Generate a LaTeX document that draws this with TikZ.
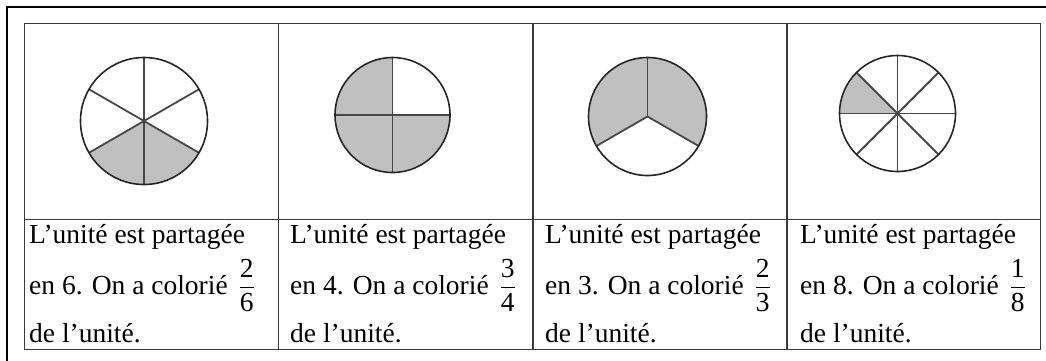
\documentclass[tikz,border=0pt]{standalone}
\usepackage{amsmath}
\usepackage{fontspec}
\setmainfont{Liberation Serif}
\definecolor{sectorgray}{HTML}{C0C0C0}
\definecolor{rulegray}{HTML}{3A3A3A}
\newcommand{\colfrac}[2]{\hspace{11pt}$\dfrac{\text{#1}}{\text{#2}}$}
\begin{document}
\begin{tikzpicture}[x=1pt,y=-1pt,
  frame/.style={line width=2.6pt,black},
  grid/.style={line width=1.5pt,rulegray},
  rim/.style={line width=1.6pt,black!85},
  ray/.style={line width=1.8pt,black!72},
  txt/.style={anchor=base west,inner sep=0pt,font=\fontsize{27.5}{32}\selectfont}]
\useasboundingbox (0,0) rectangle (1046,360);
% outer frame (cropped)
\draw[frame] (7,362) -- (7,7) -- (1048,7);
% table
\draw[grid] (24.5,23.5) rectangle (1040.5,349.5);
\draw[grid] (24.5,219.5) -- (1040.5,219.5);
\foreach \x in {278.5,533,787} \draw[grid] (\x,23.5) -- (\x,349.5);
% (y axis points down: angles are mirrored)
% circle 1 : 6 parts, 2 coloured (bottom)
\fill[sectorgray] (144,121) -- ++(30:63.5) arc[start angle=30,end angle=150,radius=63.5] -- cycle;
\foreach \a in {90,30,-30,-90,-150,150} \draw[ray] (144,121) -- ++(\a:63.5);
\draw[rim] (144,121) circle[radius=63.5];
% circle 2 : 4 parts, 3 coloured (all but top right)
\fill[sectorgray] (392.5,115) -- ++(0:57.5) arc[start angle=0,end angle=270,radius=57.5] -- cycle;
\foreach \a in {0,90,180,270} \draw[ray] (392.5,115) -- ++(\a:57.5);
\draw[rim] (392.5,115) circle[radius=57.5];
% circle 3 : 3 parts, 2 coloured (top two)
\fill[sectorgray] (647.5,116.5) -- ++(150:59) arc[start angle=150,end angle=390,radius=59] -- cycle;
\foreach \a in {30,150,270} \draw[ray] (647.5,116.5) -- ++(\a:59);
\draw[rim] (647.5,116.5) circle[radius=59];
% circle 4 : 8 parts, 1 coloured (upper left)
\fill[sectorgray] (897.5,113.5) -- ++(180:58) arc[start angle=180,end angle=225,radius=58] -- cycle;
\foreach \a in {0,45,...,315} \draw[ray] (897.5,113.5) -- ++(\a:58);
\draw[rim] (897.5,113.5) circle[radius=58];
% texts
\node[txt] (a1) at (29,243) {L’unité est partagée};
\node[txt] (a2) at (29,294) {en 6. On a colorié\colfrac{2}{6}};
\node[txt] (a3) at (29,342) {de l’unité.};
\node[txt] (b1) at (290,243) {L’unité est partagée};
\node[txt] (b2) at (290,294) {en 4. On a colorié\colfrac{3}{4}};
\node[txt] (b3) at (290,342) {de l’unité.};
\node[txt] (c1) at (545,243) {L’unité est partagée};
\node[txt] (c2) at (545,294) {en 3. On a colorié\colfrac{2}{3}};
\node[txt] (c3) at (545,342) {de l’unité.};
\node[txt] (d1) at (800,243) {L’unité est partagée};
\node[txt] (d2) at (800,294) {en 8. On a colorié\colfrac{1}{8}};
\node[txt] (d3) at (800,342) {de l’unité.};
\end{tikzpicture}
\end{document}
